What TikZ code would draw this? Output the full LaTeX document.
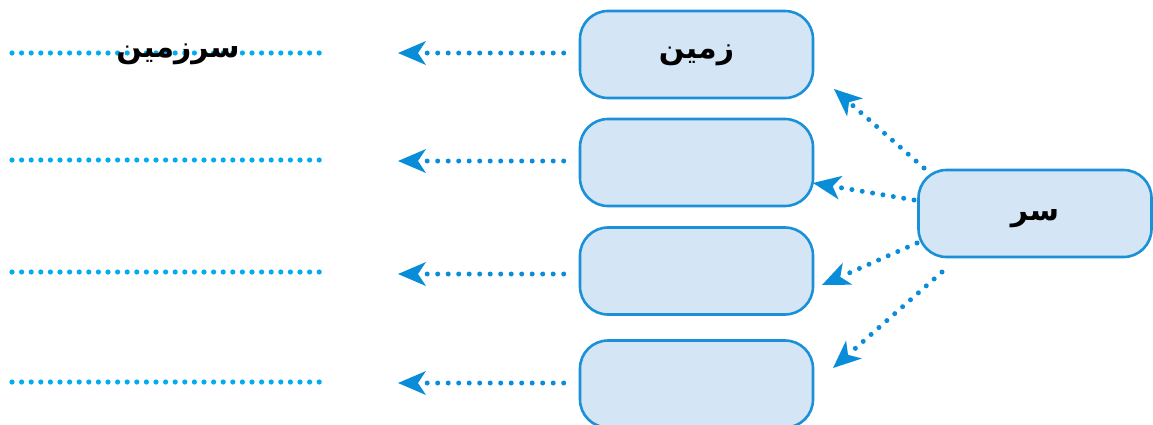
\documentclass[tikz,border=0pt]{standalone}
\usepackage{fontspec}
\usetikzlibrary{arrows.meta}
\newfontfamily\arabicfont[Script=Arabic]{DejaVu Sans}
\TeXXeTstate=1
\definecolor{boxborder}{HTML}{1A90D9}
\definecolor{boxfill}{HTML}{D4E6F5}
\definecolor{arrowblue}{HTML}{0A8DD8}
\definecolor{dotblue}{HTML}{00AEEF}
\tikzset{
  wordbox/.style={draw=boxborder, fill=boxfill, line width=2.6pt, rounded corners=28pt,
    minimum width=233pt, minimum height=87pt, inner sep=0pt},
  fa/.style={font=\arabicfont\bfseries\fontsize{30}{34}\selectfont, text=black},
  dotarrow/.style={draw=arrowblue, line width=5pt, line cap=round,
    dash pattern=on 0pt off 10.5pt,
    -{Stealth[length=28pt,width=24pt,inset=8pt,line width=0pt]}},
  answerline/.style={draw=dotblue, line width=5.2pt, line cap=round,
    dash pattern=on 0pt off 9.6pt},
}
\begin{document}
\begin{tikzpicture}[x=1pt,y=-1pt]
\useasboundingbox (0,0) rectangle (1153,424);
% boxes
\node[wordbox] (b1) at (696.5,54.5) {};
\node[wordbox] (b2) at (696.5,162.5) {};
\node[wordbox] (b3) at (696.5,271) {};
\node[wordbox] (b4) at (696.5,384) {};
\node[wordbox] (sr) at (1035,213.5) {};
\node[fa] (t1) at ([yshift=-1pt]b1.center) {\beginR زمین\endR};
\node[fa] (tsr) at ([yshift=-5pt]sr.center) {\beginR سر\endR};
% left arrow endpoints
\coordinate (l1) at (398,53);
\coordinate (l2) at (398,161);
\coordinate (l3) at (398,274);
\coordinate (l4) at (398,383);
\draw[dotarrow] ([xshift=-15pt]b1.west |- l1) -- (l1);
\draw[dotarrow] ([xshift=-15pt]b2.west |- l2) -- (l2);
\draw[dotarrow] ([xshift=-15pt]b3.west |- l3) -- (l3);
\draw[dotarrow] ([xshift=-15pt]b4.west |- l4) -- (l4);
% right fan arrows
\coordinate (r1s) at (924,168);
\coordinate (r2s) at (914,200);
\coordinate (r3s) at (917,243);
\coordinate (r4s) at (942,272);
\coordinate (r1) at (834,89);
\coordinate (r2) at (813,183);
\coordinate (r3) at (822,285);
\coordinate (r4) at (833,368);
\draw[dotarrow] (r1s) -- (r1);
\draw[dotarrow] (r2s) -- (r2);
\draw[dotarrow] (r3s) -- (r3);
\draw[dotarrow] (r4s) -- (r4);
% answer lines
\coordinate (a1s) at (12,53);  \coordinate (a1e) at (325,53);
\coordinate (a2s) at (12,160); \coordinate (a2e) at (325,160);
\coordinate (a3s) at (12,272); \coordinate (a3e) at (325,272);
\coordinate (a4s) at (12,382); \coordinate (a4e) at (325,382);
\draw[answerline] (a1s) -- (a1e);
\draw[answerline] (a2s) -- (a2e);
\draw[answerline] (a3s) -- (a3e);
\draw[answerline] (a4s) -- (a4e);
\node[fa] (ans) at (178,54) {\beginR سرزمین\endR};
\end{tikzpicture}
\end{document}
